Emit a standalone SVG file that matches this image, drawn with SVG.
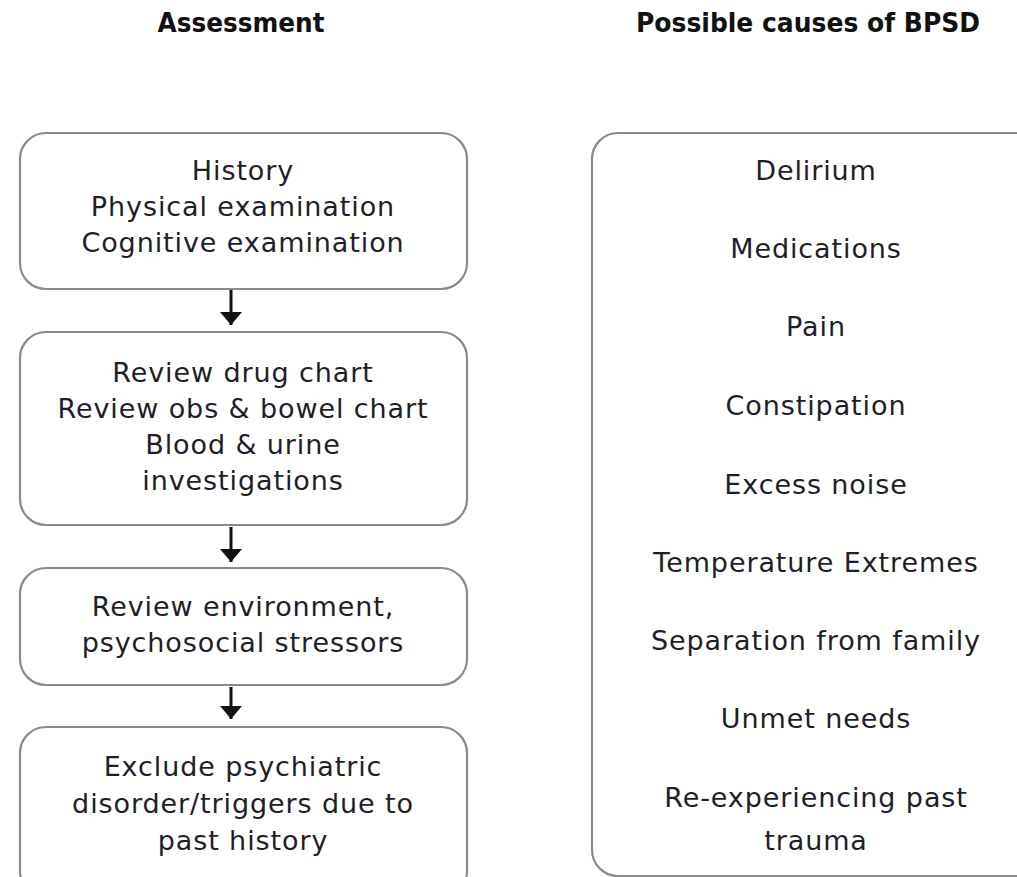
<svg xmlns="http://www.w3.org/2000/svg" width="1017" height="877" viewBox="0 0 1017 877">
<defs>
<style>
.box{fill:#fff;stroke:#8a8a8a;stroke-width:2.2}
.t{font-family:"DejaVu Sans","Liberation Sans",sans-serif;font-size:27px;letter-spacing:0.9px;fill:#1e1e28;text-anchor:middle}
.h{font-family:"DejaVu Sans","Liberation Sans",sans-serif;font-size:26px;font-weight:bold;fill:#111;text-anchor:middle}
.c{stroke:#111;stroke-width:3;fill:none}
</style>
<marker id="a" viewBox="0 0 13 22" refX="13" refY="11" markerWidth="13" markerHeight="22" markerUnits="userSpaceOnUse" orient="auto">
<path d="M0,0 L13,11 L0,22 z" fill="#111"/>
</marker>
</defs>
<rect width="1017" height="877" fill="#fff"/>
<text class="h" x="241" y="32" textLength="167" lengthAdjust="spacingAndGlyphs">Assessment</text>
<text class="h" x="808" y="32" textLength="344" lengthAdjust="spacingAndGlyphs">Possible causes of BPSD</text>
<g id="connectors">
<path class="c" d="M231,290 V325" marker-end="url(#a)"/>
<path class="c" d="M231,527 V562" marker-end="url(#a)"/>
<path class="c" d="M231,687 V719" marker-end="url(#a)"/>
</g>
<g id="n1">
<rect class="box" x="20" y="133" width="447" height="156" rx="26"/>
<text class="t" x="243" y="180">History</text>
<text class="t" x="243" y="216">Physical examination</text>
<text class="t" x="243" y="252">Cognitive examination</text>
</g>
<g id="n2">
<rect class="box" x="20" y="332" width="447" height="193" rx="26"/>
<text class="t" x="243" y="382">Review drug chart</text>
<text class="t" x="243" y="418">Review obs &amp; bowel chart</text>
<text class="t" x="243" y="454">Blood &amp; urine</text>
<text class="t" x="243" y="490">investigations</text>
</g>
<g id="n3">
<rect class="box" x="20" y="568" width="447" height="117" rx="26"/>
<text class="t" x="243" y="616">Review environment,</text>
<text class="t" x="243" y="652">psychosocial stressors</text>
</g>
<g id="n4">
<rect class="box" x="20" y="727" width="447" height="170" rx="26"/>
<text class="t" x="243" y="776">Exclude psychiatric</text>
<text class="t" x="243" y="813">disorder/triggers due to</text>
<text class="t" x="243" y="850">past history</text>
</g>
<g id="causes">
<rect class="box" x="592" y="133" width="460" height="743" rx="26"/>
<text class="t" x="816" y="180">Delirium</text>
<text class="t" x="816" y="258">Medications</text>
<text class="t" x="816" y="336">Pain</text>
<text class="t" x="816" y="415">Constipation</text>
<text class="t" x="816" y="494">Excess noise</text>
<text class="t" x="816" y="572">Temperature Extremes</text>
<text class="t" x="816" y="650">Separation from family</text>
<text class="t" x="816" y="728">Unmet needs</text>
<text class="t" x="816" y="807">Re-experiencing past</text>
<text class="t" x="816" y="850">trauma</text>
</g>
</svg>
